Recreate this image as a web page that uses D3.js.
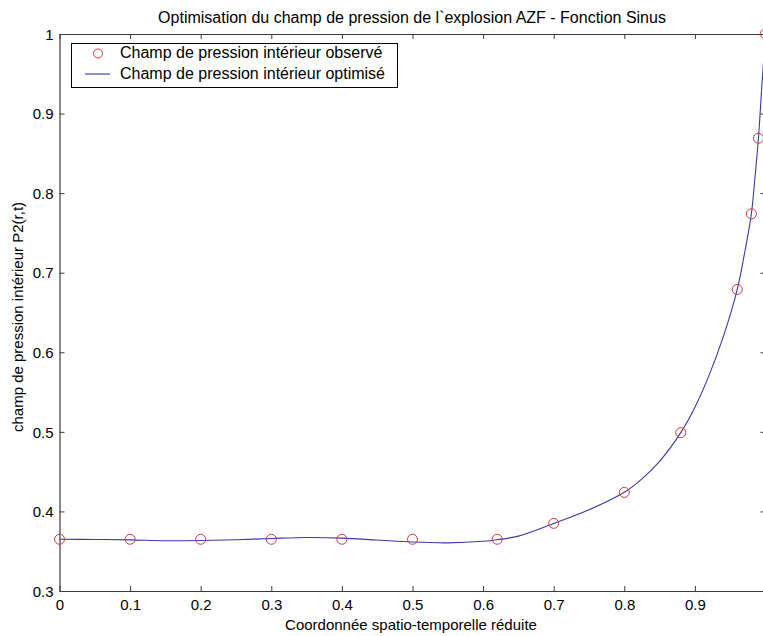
<!DOCTYPE html>
<html><head><meta charset="utf-8">
<script src="https://cdn.jsdelivr.net/npm/d3@7"></script>
<style>
html,body{margin:0;padding:0;background:#fff;overflow:hidden;}
svg{display:block;font-family:"Liberation Sans",Arial,sans-serif;}
</style></head>
<body>
<svg id="c" width="763" height="636"></svg>
<script>
const titleText = "Optimisation du champ de pression de l`explosion AZF - Fonction Sinus";
const xLabel = "Coordonnée spatio-temporelle réduite";
const yLabel = "champ de pression intérieur P2(r,t)";
const legendLabels = ["Champ de pression intérieur observé", "Champ de pression intérieur optimisé"];

const xTicks = [0,0.1,0.2,0.3,0.4,0.5,0.6,0.7,0.8,0.9,1];
const xTickLabels = ["0","0.1","0.2","0.3","0.4","0.5","0.6","0.7","0.8","0.9",""];
const yTicks = [0.3,0.4,0.5,0.6,0.7,0.8,0.9,1];
const yTickLabels = ["0.3","0.4","0.5","0.6","0.7","0.8","0.9","1"];

// observed points
const obsX = [0,0.1,0.2,0.3,0.4,0.5,0.62,0.7,0.8,0.88,0.96,0.98,0.99,1.0];
const obsY = [0.365,0.365,0.365,0.365,0.365,0.365,0.365,0.385,0.424,0.499,0.679,0.774,0.869,1.0];

// optimised curve
const fitX = [0,0.05,0.1,0.15,0.2,0.25,0.3,0.35,0.4,0.45,0.5,0.55,0.6,0.62,0.65,0.7,0.75,0.8,0.825,0.85,0.88,0.9,0.92,0.94,0.96,0.97,0.98,0.985,0.99,0.995,1.0];
const fitY = [0.365,0.3648,0.3643,0.3632,0.3635,0.3645,0.366,0.3672,0.3665,0.364,0.3615,0.3605,0.3625,0.3645,0.369,0.3848,0.402,0.424,0.441,0.463,0.499,0.531,0.571,0.619,0.679,0.723,0.774,0.819,0.869,0.937,1.0];

const svg = d3.select("#c");
const L = 59.5, R = 765.5, T = 34, B = 591;
const x = d3.scaleLinear().domain([0,1]).range([L,R]);
const y = d3.scaleLinear().domain([0.3,1]).range([B,T]);
const axisCol = "#3a3a3a";
const FONT = "'Liberation Sans',Arial,sans-serif";

// axes (ticks inward)
const gB = svg.append("g").attr("transform",`translate(0,${B})`)
  .call(d3.axisBottom(x).tickValues(xTicks).tickSizeInner(-5).tickSizeOuter(0).tickPadding(8)
    .tickFormat((d,i)=>xTickLabels[i]));
const gT = svg.append("g").attr("transform",`translate(0,${T})`)
  .call(d3.axisTop(x).tickValues(xTicks).tickSizeInner(-5).tickSizeOuter(0).tickFormat(""));
const gL = svg.append("g").attr("transform",`translate(${L},0)`)
  .call(d3.axisLeft(y).tickValues(yTicks).tickSizeInner(-5).tickSizeOuter(0).tickPadding(6)
    .tickFormat((d,i)=>yTickLabels[i]));
const gR = svg.append("g").attr("transform",`translate(${R},0)`)
  .call(d3.axisRight(y).tickValues(yTicks).tickSizeInner(-5).tickSizeOuter(0).tickFormat(""));
[gB,gT,gL,gR].forEach(g=>{
  g.selectAll("path").attr("stroke",axisCol).attr("stroke-width",1.2);
  g.selectAll("line").attr("stroke",axisCol).attr("stroke-width",1);
  g.selectAll("text").attr("fill","#000").style("font-size","15px").style("font-family",FONT);
});
gL.selectAll("text").attr("dy","0.35em");
gB.selectAll("text").attr("dy","0.75em");

// curve
const line = d3.line().x((d,i)=>x(fitX[i])).y((d,i)=>y(fitY[i])).curve(d3.curveCatmullRom.alpha(0.5));
svg.append("path").datum(fitY).attr("d",line).attr("fill","none").attr("stroke","#3a3aa8").attr("stroke-width",1.1);

// observed circles
svg.append("g").selectAll("circle").data(obsY).join("circle")
  .attr("cx",(d,i)=>x(obsX[i])).attr("cy",d=>y(d)).attr("r",5)
  .attr("fill","none").attr("stroke","#d03a3a").attr("stroke-width",1);

// title and labels
svg.append("text").attr("x",412).attr("y",23).attr("text-anchor","middle")
  .style("font-size","16px").text(titleText);
svg.append("text").attr("x",411).attr("y",630).attr("text-anchor","middle")
  .style("font-size","15px").text(xLabel);
svg.append("text").attr("transform","translate(23,317) rotate(-90)").attr("text-anchor","middle")
  .style("font-size","15px").text(yLabel);

// legend
const lg = svg.append("g");
lg.append("rect").attr("x",71.5).attr("y",43.5).attr("width",326).attr("height",44)
  .attr("fill","#fff").attr("stroke","#000").attr("stroke-width",1);
lg.append("circle").attr("cx",98).attr("cy",53.5).attr("r",4.5).attr("fill","none").attr("stroke","#d03a3a").attr("stroke-width",1);
lg.append("line").attr("x1",85).attr("x2",110).attr("y1",74).attr("y2",74).attr("stroke","#3a3aa8").attr("stroke-width",1.1);
lg.selectAll("text.lg").data(legendLabels).join("text").attr("class","lg")
  .attr("x",120).attr("y",(d,i)=>58+i*21).style("font-size","16px").text(d=>d);
</script>
</body></html>
